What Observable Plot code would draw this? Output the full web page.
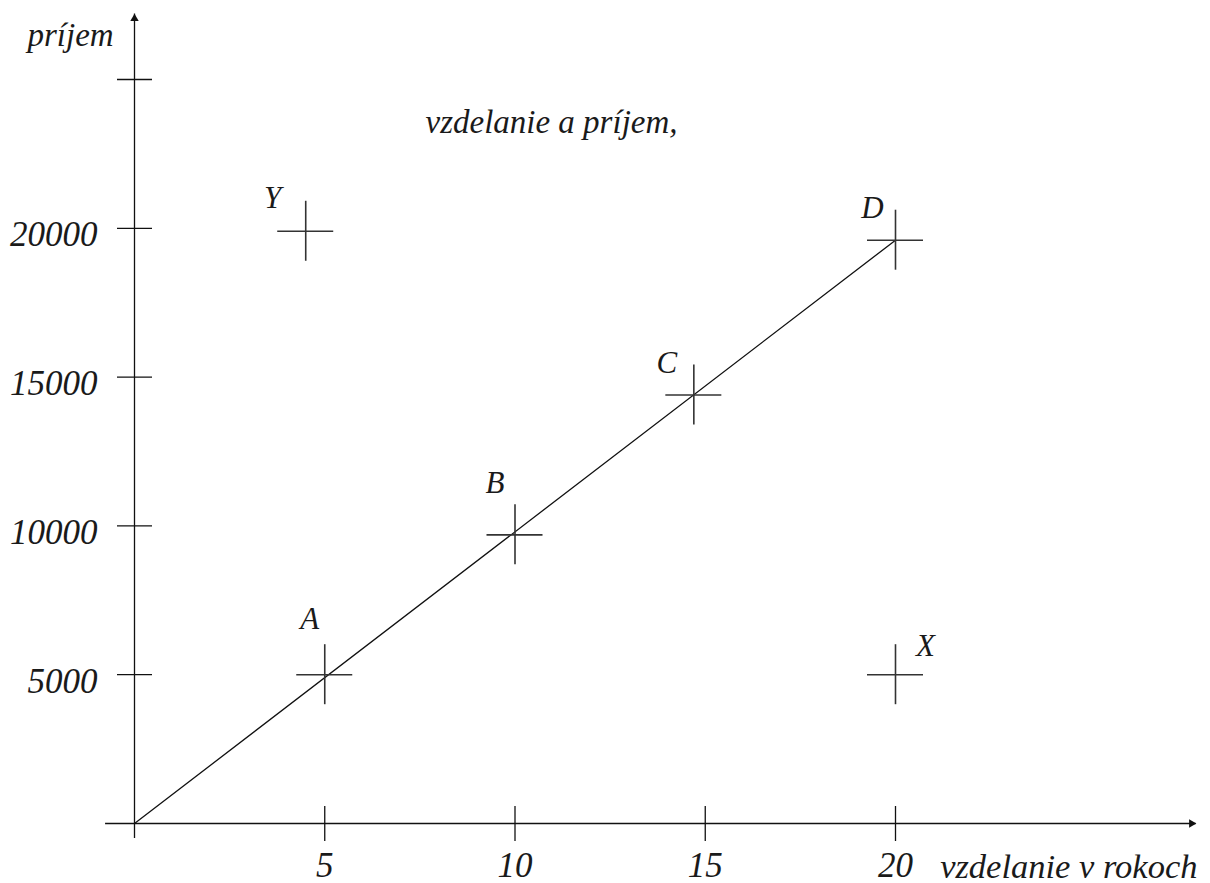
<!DOCTYPE html>
<html>
<head>
<meta charset="utf-8">
<script src="https://cdn.jsdelivr.net/npm/d3@7"></script>
<script src="https://cdn.jsdelivr.net/npm/@observablehq/plot@0.6"></script>
<style>
  html, body { margin: 0; padding: 0; background: #fff; }
  #chart svg { display: block; }
  #chart svg text { font-family: "Liberation Serif", "DejaVu Serif", serif; font-style: italic; }
</style>
</head>
<body>
<div id="chart"></div>
<script>
// Education (years) vs. income for six people
const pointNames = ["A", "B", "C", "D", "X", "Y"];
const education = [5, 10, 14.7, 20, 20, 4.5];
const income = [5000, 9700, 14400, 19600, 5000, 19900];

// Axis ticks
const xTicks = [5, 10, 15, 20];
const xTickLabels = ["5", "10", "15", "20"];
const yTicks = [5000, 10000, 15000, 20000, 25000];
const yTickLabels = ["5000", "10000", "15000", "20000", ""];

// Label nudges (px) relative to each point's cross
const labelDx = [-15, -20, -27, -23, 30, -33];
const labelDy = [-46, -42, -22, -22, -19, -23];

const titleText = "vzdelanie a príjem,";
const xLabel = "vzdelanie v rokoch";
const yLabel = "príjem";

const points = pointNames.map((name, i) => ({name, x: education[i], y: income[i]}));
const trend = [{x: 0, y: 0}, {x: education[3], y: income[3]}];
const xTickRows = xTicks.map((v, i) => ({v, label: xTickLabels[i]}));
const yTickRows = yTicks.map((v, i) => ({v, label: yTickLabels[i]}));

const font = "Liberation Serif";
const ink = "#1a1a1a";
const textStyle = {fontFamily: font, fontStyle: "italic", fill: ink};

const chart = Plot.plot({
  width: 1210,
  height: 883,
  marginLeft: 134,
  marginRight: 315,
  marginTop: 79,
  marginBottom: 60,
  x: {domain: [0, 20], axis: null},
  y: {domain: [0, 25000], axis: null},
  style: {background: "#fff", color: ink},
  marks: [
    // axes with arrowheads
    Plot.ruleY([0], {x1: -0.76, x2: 27.9, stroke: "#111", strokeWidth: 1.3}),
    Plot.ruleX([0], {y1: -500, y2: 27200, stroke: "#111", strokeWidth: 1.3}),
    Plot.dot([{x: 27.78, y: 0}], {x: "x", y: "y", symbol: "triangle2", r: 4, fill: "#111", rotate: 90}),
    Plot.dot([{x: 0, y: 27050}], {x: "x", y: "y", symbol: "triangle2", r: 4, fill: "#111"}),
    // tick marks
    Plot.ruleX(xTickRows, {x: "v", y1: 0, y2: 0, insetTop: -17, insetBottom: -18, stroke: "#111", strokeWidth: 1.3}),
    Plot.ruleY(yTickRows, {y: "v", x1: 0, x2: 0, insetLeft: -17, insetRight: -18, stroke: "#111", strokeWidth: 1.3}),
    // tick labels
    Plot.text(xTickRows, {x: "v", y: 0, text: "label", dy: 53, lineAnchor: "bottom", fontSize: 35, ...textStyle}),
    Plot.text(yTickRows, {x: 0, y: "v", text: "label", dx: -37, dy: 18, textAnchor: "end", lineAnchor: "bottom", fontSize: 35, ...textStyle}),
    // axis titles and heading
    Plot.text([xLabel], {frameAnchor: "bottom-right", dx: 1197 - 895, dy: 877 - 823, text: d => d, textAnchor: "end", lineAnchor: "bottom", fontSize: 34.5, ...textStyle}),
    Plot.text([yLabel], {frameAnchor: "top-left", dx: 27 - 134, dy: 45 - 79, text: d => d, textAnchor: "start", lineAnchor: "bottom", fontSize: 33, ...textStyle}),
    Plot.text([titleText], {frameAnchor: "top-left", dx: 425 - 134, dy: 132 - 79, text: d => d, textAnchor: "start", lineAnchor: "bottom", fontSize: 33, ...textStyle}),
    // line from origin to D
    Plot.line(trend, {x: "x", y: "y", stroke: "#111", strokeWidth: 1.3}),
    // crosses marking each person
    Plot.ruleX(points, {x: "x", y1: "y", y2: "y", insetTop: -30, insetBottom: -30, stroke: "#333", strokeWidth: 1.6}),
    Plot.ruleY(points, {y: "y", x1: "x", x2: "x", insetLeft: -28, insetRight: -28, stroke: "#333", strokeWidth: 1.6}),
    // point letters
    ...points.map((p, i) => Plot.text([p], {
      x: "x", y: "y", text: "name", dx: labelDx[i], dy: labelDy[i],
      lineAnchor: "bottom", fontSize: 31, ...textStyle
    }))
  ]
});

document.getElementById("chart").append(chart);
</script>
</body>
</html>
